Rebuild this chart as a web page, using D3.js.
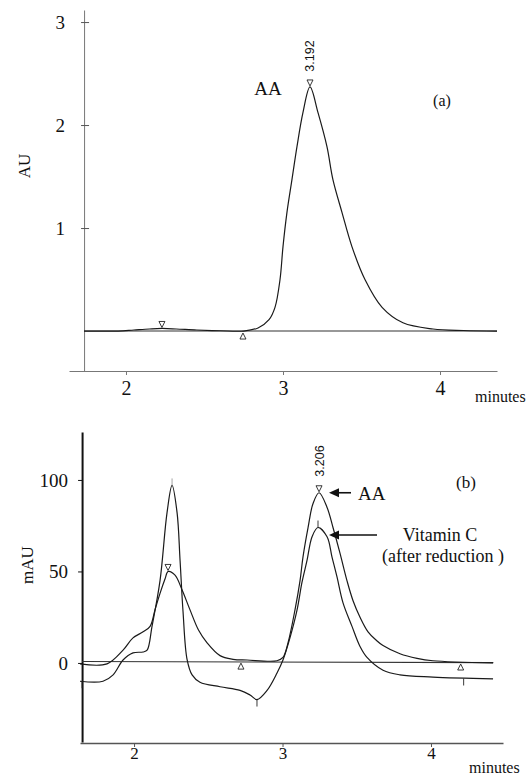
<head>
<meta charset="utf-8">
<style>
body {
  margin: 0;
  background: #fff;
}
text {
  font-family: "Liberation Serif", "DejaVu Serif", serif;
  fill: #111;
}
.num {
  font-family: "Liberation Sans", Arial, sans-serif;
}
.trace {
  fill: none;
  stroke: #1a1a1a;
  stroke-width: 1.2;
}
.base {
  fill: none;
  stroke: #333;
  stroke-width: 1.1;
}
.mark {
  fill: none;
  stroke: #222;
  stroke-width: 0.9;
}
</style>
</head>
<body>
<div id="chart"></div>

<script src="https://cdn.jsdelivr.net/npm/d3@7"></script>
<script>
// ---- panel (a): AA standard, AU ----
var topTicksX = [2, 3, 4];
var topTicksY = [1, 2, 3];
var aaTime = [1.733, 1.95, 2.05, 2.15, 2.23, 2.32, 2.45, 2.6, 2.75, 2.841, 2.911, 2.949, 2.981, 3.0,
  3.025, 3.057, 3.089, 3.127, 3.172, 3.223, 3.28, 3.318, 3.376, 3.439, 3.522, 3.631, 3.764, 3.955, 4.15, 4.363];
var aaAU = [0, 0, 0.01, 0.02, 0.025, 0.02, 0.01, 0.003, 0, 0.03, 0.11, 0.23, 0.5, 0.82,
  1.15, 1.47, 1.79, 2.12, 2.37, 2.12, 1.79, 1.47, 1.15, 0.82, 0.5, 0.23, 0.08, 0.02, 0.005, 0];
var aaBaseTime = [1.733, 4.363];
var aaBaseAU = [0, 0];
// peak markers: time, value, shape
var topMarkTime = [3.172, 2.229, 2.745];
var topMarkValue = [2.37, 0.025, 0];
var topMarkShape = ["down", "down", "up"];

// ---- panel (b): AA standard and vitamin C, mAU ----
var botTicksX = [2, 3, 4];
var botTicksY = [0, 50, 100];
var stdTime = [1.636, 1.818, 1.926, 1.993, 2.061, 2.108, 2.141, 2.175, 2.209, 2.229, 2.276, 2.323, 2.377,
  2.434, 2.492, 2.579, 2.667, 2.761, 2.963, 3.003, 3.037, 3.084, 3.118, 3.138, 3.172, 3.205, 3.246,
  3.300, 3.340, 3.387, 3.434, 3.475, 3.522, 3.576, 3.63, 3.677, 3.791, 3.906, 4.013, 4.418];
var stdMAU = [-0.5, -0.5, 7, 13.7, 17, 20, 29, 38, 46, 50, 48, 40, 29,
  18, 11, 4, 2, 1.6, 1.2, 3, 11, 29, 45, 58, 74, 87, 93,
  85, 74, 60, 45, 34, 25, 17, 12.5, 9.5, 5, 2.5, 1.2, 0];
var vitTime = [1.636, 1.791, 1.859, 1.926, 1.993, 2.061, 2.088, 2.121, 2.175, 2.222, 2.256, 2.29, 2.31,
  2.33, 2.357, 2.391, 2.444, 2.579, 2.714, 2.781, 2.828, 2.896, 2.963, 3.003, 3.051, 3.098, 3.131,
  3.165, 3.199, 3.239, 3.300, 3.333, 3.367, 3.407, 3.468, 3.522, 3.569, 3.677, 3.791, 4.013, 4.418];
var vitMAU = [-10, -10, -6.5, 1.6, 5.5, 6, 7, 20, 45, 82, 97, 82, 56,
  28, 2, -6.5, -10.5, -13, -15, -17.5, -20, -15, -5.5, 1.6, 14, 29, 44,
  56, 69, 74, 69, 58, 47, 33, 20, 9, 3, -4, -6.5, -7.7, -8.7];
var botBaseTime = [1.65, 4.42];
var botBaseMAU = [0.8, 0.2];
var botMarkTime = [2.229, 3.246, 2.256, 2.72, 2.828, 4.2, 4.22, 3.239, 1.65];
var botMarkValue = [50, 93, 97, 1, -20, 0.5, -8.5, 74, -10];
var botMarkShape = ["down", "down", "tickUp", "up", "tickDown", "up", "tickDown", "tickUp", "tickDown"];

(function() {
  "use strict";

  var W = 530, H = 777;

  var svg = d3.select("#chart")
    .append("svg")
      .attr("width", W)
      .attr("height", H);

  function pairs(xs, ys) {
    return xs.map(function (x, i) { return [x, ys[i]]; });
  }

  function drawMarks(g, x, y, times, values, shapes) {
    times.forEach(function (t, i) {
      var px = x(t), py = y(values[i]), s = shapes[i], d;
      if (s == "down") {
        // open triangle sitting on the peak
        d = "M" + (px - 3) + "," + (py - 7) + "L" + (px + 3) + "," + (py - 7) + "L" + px + "," + (py - 1) + "Z";
      } else if (s == "up") {
        d = "M" + (px - 3) + "," + (py + 8) + "L" + (px + 3) + "," + (py + 8) + "L" + px + "," + (py + 2) + "Z";
      } else if (s == "tickUp") {
        d = "M" + px + "," + py + "L" + px + "," + (py - 7);
      } else {
        d = "M" + px + "," + py + "L" + px + "," + (py + 7);
      }
      g.append("path").attr("class", "mark").attr("d", d)
        .style("stroke", s == "tickUp" && i == 2 ? "#999" : null);
    });
  }

  function arrow(g, x1, x2, y) {
    g.append("line")
      .attr("x1", x1).attr("x2", x2 + 6)
      .attr("y1", y).attr("y2", y)
      .style("stroke", "#111").style("stroke-width", 1.6);
    g.append("path")
      .attr("d", "M" + x2 + "," + y + "L" + (x2 + 10) + "," + (y - 4.5) + "L" + (x2 + 10) + "," + (y + 4.5) + "Z")
      .style("fill", "#111");
  }

  // =============== panel (a) ===============
  var xTop = d3.scaleLinear().domain([1.637, 4.363]).range([69, 497]);
  var yTop = d3.scaleLinear().domain([-0.388, 3.117]).range([371, 10]);
  var topG = svg.append("g");
  var yAxisX = xTop(1.733);

  var yAxTop = topG.append("g")
    .attr("transform", "translate(" + yAxisX + ",0)")
    .call(d3.axisLeft(yTop).tickValues(topTicksY).tickSizeInner(3).tickSizeOuter(0).tickPadding(16).tickFormat(d3.format("d")));
  yAxTop.select(".domain").style("stroke", "#777");
  yAxTop.selectAll(".tick line").attr("x1", 5).attr("x2", -3).style("stroke", "#555");
  yAxTop.selectAll("text").style("font-size", "19px").style("font-family", "Liberation Serif");

  var xAxTop = topG.append("g")
    .attr("transform", "translate(0," + yTop.range()[0] + ")")
    .call(d3.axisBottom(xTop).tickValues(topTicksX).tickSizeInner(4).tickSizeOuter(0).tickPadding(6).tickFormat(d3.format("d")));
  xAxTop.select(".domain").style("stroke", "#777");
  xAxTop.selectAll(".tick line").style("stroke", "#777");
  xAxTop.selectAll("text").style("font-size", "20px").style("font-family", "Liberation Serif");

  // centripetal catmull-rom keeps the peaks round without big overshoot
  var lineTop = d3.line()
    .x(function (d) { return xTop(d[0]); })
    .y(function (d) { return yTop(d[1]); })
    .curve(d3.curveCatmullRom.alpha(0.5));

  topG.append("path").attr("class", "base").attr("d", lineTop(pairs(aaBaseTime, aaBaseAU)));
  topG.append("path").attr("class", "trace").attr("d", lineTop(pairs(aaTime, aaAU)));
  drawMarks(topG, xTop, yTop, topMarkTime, topMarkValue, topMarkShape);

  topG.append("text")
    .attr("transform", "translate(24,166) rotate(-90)")
    .attr("text-anchor", "middle").attr("dy", "0.35em")
    .style("font-size", "17px").text("AU");
  topG.append("text").attr("class", "num")
    .attr("transform", "translate(" + (xTop(3.172) + 4) + ",56) rotate(-90)")
    .attr("text-anchor", "middle")
    .style("font-size", "12.5px").text("3.192");
  topG.append("text").attr("x", 268).attr("y", 95)
    .attr("text-anchor", "middle").style("font-size", "19px").text("AA");
  topG.append("text").attr("x", 442).attr("y", 106)
    .attr("text-anchor", "middle").style("font-size", "16px").text("(a)");
  topG.append("text").attr("x", 475).attr("y", 402)
    .style("font-size", "16px").text("minutes");

  // =============== panel (b) ===============
  var xBot = d3.scaleLinear().domain([1.636, 4.485]).range([80, 503]);
  var yBot = d3.scaleLinear().domain([-43.2, 126.2]).range([742, 432]);
  var botG = svg.append("g");

  var xAxBot = botG.append("g")
    .attr("transform", "translate(0," + (yBot.range()[0] + 1) + ")")
    .call(d3.axisBottom(xBot).tickValues(botTicksX).tickSizeInner(4).tickSizeOuter(0).tickPadding(0).tickFormat(d3.format("d")));
  xAxBot.select(".domain").style("stroke", "#555").style("stroke-width", 1.3);
  xAxBot.selectAll(".tick line").style("stroke", "#555");
  xAxBot.selectAll("text").style("font-size", "17px").style("font-family", "Liberation Serif");

  var yAxBot = botG.append("g")
    .attr("transform", "translate(" + xBot(1.65) + ",0)")
    .call(d3.axisLeft(yBot).tickValues(botTicksY).tickSizeInner(4).tickSizeOuter(0).tickPadding(10).tickFormat(d3.format("d")));
  yAxBot.select(".domain").style("stroke", "#111").style("stroke-width", 2);
  yAxBot.selectAll(".tick line").style("stroke", "#111");
  yAxBot.selectAll("text").style("font-size", "19px").style("font-family", "Liberation Serif");

  var lineBot = d3.line()
    .x(function (d) { return xBot(d[0]); })
    .y(function (d) { return yBot(d[1]); })
    .curve(d3.curveCatmullRom.alpha(0.5));

  botG.append("path").attr("class", "base").attr("d", lineBot(pairs(botBaseTime, botBaseMAU)));
  botG.append("path").attr("class", "trace").attr("d", lineBot(pairs(stdTime, stdMAU)));
  botG.append("path").attr("class", "trace").attr("d", lineBot(pairs(vitTime, vitMAU)));
  drawMarks(botG, xBot, yBot, botMarkTime, botMarkValue, botMarkShape);

  botG.append("text")
    .attr("transform", "translate(27,565) rotate(-90)")
    .attr("text-anchor", "middle").attr("dy", "0.35em")
    .style("font-size", "17px").text("mAU");
  botG.append("text").attr("class", "num")
    .attr("transform", "translate(" + (xBot(3.246) + 5) + ",461) rotate(-90)")
    .attr("text-anchor", "middle")
    .style("font-size", "12.5px").text("3.206");

  arrow(botG, 351, 329, yBot(93));
  botG.append("text").attr("x", 358).attr("y", 500)
    .style("font-size", "19px").text("AA");
  botG.append("text").attr("x", 466).attr("y", 488)
    .attr("text-anchor", "middle").style("font-size", "17px").text("(b)");

  arrow(botG, 377, 329, 535);
  botG.append("text").attr("x", 440).attr("y", 541)
    .attr("text-anchor", "middle").style("font-size", "18px").text("Vitamin C");
  botG.append("text").attr("x", 443).attr("y", 562)
    .attr("text-anchor", "middle").style("font-size", "18px").text("(after reduction )");
  botG.append("text").attr("x", 469).attr("y", 773)
    .style("font-size", "16px").text("minutes");

})();
</script>
</body>
